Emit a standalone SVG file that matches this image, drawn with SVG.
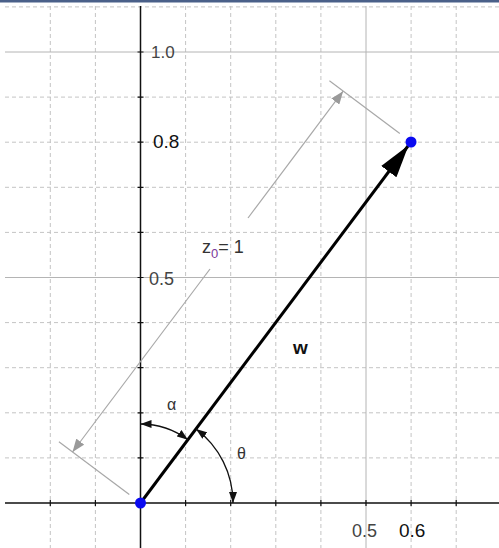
<svg xmlns="http://www.w3.org/2000/svg" width="499" height="548" viewBox="0 0 499 548">
<style>
.grid{stroke:#c4c4c4;stroke-width:1;stroke-dasharray:4 3;fill:none}
.major{stroke:#b4b4b4;stroke-width:1;fill:none}
.axis{stroke:#111;stroke-width:1.5;fill:none}
.tick{stroke:#111;stroke-width:1.2}
.dim{stroke:#a8a8a8;stroke-width:1.2;fill:none}
.arc{stroke:#111;stroke-width:1.3;fill:none}
.lbl{font-family:"Liberation Sans",Arial,sans-serif}
.pt{fill:#0a0af0}
</style>
<defs>
<marker id="arcArrow" markerUnits="userSpaceOnUse" markerWidth="12" markerHeight="8" refX="11" refY="4" orient="auto-start-reverse" viewBox="0 0 12 8">
<path d="M0,0 L11,4 L0,8 z" fill="#111"/>
</marker>
<marker id="dimArrow" markerUnits="userSpaceOnUse" markerWidth="14" markerHeight="10" refX="13" refY="5" orient="auto-start-reverse" viewBox="0 0 14 10">
<path d="M0,0 L13,5 L0,10 z" fill="#9a9a9a"/>
</marker>
<marker id="wArrow" markerUnits="userSpaceOnUse" markerWidth="40" markerHeight="20" refX="37" refY="10" orient="auto" viewBox="0 0 40 20">
<path d="M0,0.5 L33,10 L0,19.5 z" fill="#000"/>
</marker>
</defs>
<rect x="0" y="0" width="499" height="548" fill="#fff"/>
<rect x="0" y="0" width="499" height="2.5" fill="#4a6089"/>
<g id="grid">
<path class="grid" d="M5,6.9H499 M5,97.1H499 M5,142.2H499 M5,187.3H499 M5,232.4H499 M5,322.6H499 M5,367.7H499 M5,412.8H499 M5,457.9H499"/>
<path class="grid" d="M50.3,6V548 M95.4,6V548 M185.6,6V548 M230.7,6V548 M275.8,6V548 M320.9,6V548 M411.1,6V548 M456.2,6V548"/>
<path class="major" d="M5,52H499 M5,277.5H499 M366,6V548"/>
</g>
<g id="axes">
<path class="axis" d="M140.5,6V548 M5,503H499"/>
<path class="tick" d="M137.5,52H143.5 M137.5,97.1H143.5 M137.5,142.2H143.5 M137.5,187.3H143.5 M137.5,232.4H143.5 M137.5,277.5H143.5 M137.5,322.6H143.5 M137.5,367.7H143.5 M137.5,412.8H143.5 M137.5,457.9H143.5"/>
<path class="tick" d="M50.3,500V506 M95.4,500V506 M185.6,500V506 M230.7,500V506 M275.8,500V506 M320.9,500V506 M366,500V506 M411.1,500V506 M456.2,500V506"/>
</g>
<g id="axis-labels" class="lbl">
<text x="151" y="58" font-size="17" fill="#444">1.0</text>
<text x="153" y="148" font-size="19" fill="#111">0.8</text>
<text x="149" y="285" font-size="18" fill="#444">0.5</text>
<text x="352" y="537" font-size="18" fill="#444">0.5</text>
<text x="399" y="537" font-size="19" fill="#111">0.6</text>
</g>
<g id="connectors">
<path id="vector-w" d="M140.5,503 L411,142" stroke="#000" stroke-width="3" fill="none" marker-end="url(#wArrow)"/>
<path id="ext-origin" class="dim" d="M129.3,494.6 L58.9,441.8"/>
<path id="ext-tip" class="dim" d="M399.8,133.6 L329.4,80.8"/>
<path id="dim-lower" class="dim" d="M210,269 L72.5,452" marker-end="url(#dimArrow)"/>
<path id="dim-upper" class="dim" d="M248,218 L343.1,91.2" marker-end="url(#dimArrow)"/>
<path id="arc-alpha" class="arc" d="M140.5,424 A79,79 0 0 1 187.9,439.8" marker-start="url(#arcArrow)" marker-end="url(#arcArrow)"/>
<path id="arc-theta" class="arc" d="M196,429 A92.5,92.5 0 0 1 233,503" marker-start="url(#arcArrow)" marker-end="url(#arcArrow)"/>
</g>
<g id="node-origin"><circle class="pt" cx="140.5" cy="503" r="5.5"/></g>
<g id="node-tip"><circle class="pt" cx="411" cy="142" r="5.5"/></g>
<g id="labels" class="lbl">
<text x="202" y="253" font-size="18" fill="#333">z<tspan font-size="13" dy="5" fill="#7a3a9a">0</tspan><tspan dy="-5">= 1</tspan></text>
<text x="293" y="354" font-size="19" font-weight="bold" fill="#111">w</text>
<text x="167" y="410" font-size="16" fill="#333">α</text>
<text x="237" y="459" font-size="16" fill="#333">θ</text>
</g>
</svg>
